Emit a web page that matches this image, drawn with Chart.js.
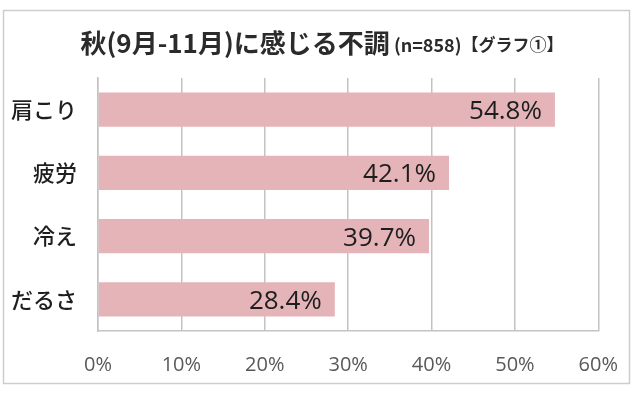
<!DOCTYPE html>
<html>
<head>
<meta charset="utf-8">
<script src="https://cdn.jsdelivr.net/npm/chart.js@4"></script>
<style>
  html, body { margin: 0; padding: 0; background: #fff; }
  canvas { display: block; }
</style>
</head>
<body>
<canvas id="chart" width="640" height="393"></canvas>
<script>
const categories = ["肩こり", "疲労", "冷え", "だるさ"]
const values     = [54.8, 42.1, 39.7, 28.4]
const axisMin    = 0
const axisMax    = 60
const axisStep   = 10

const titleMain = "秋(9月-11月)に感じる不調"
const titleN    = " (n=858)"
const titleTag  = "【グラフ①】"

const JP  = "'Noto Sans CJK JP', 'Noto Sans', sans-serif"
const NUM = "'Open Sans', 'Noto Sans', sans-serif"
const GRID = "#c3c3c3"

// frame + title drawn straight on the canvas
const frameAndTitle = {
  id: "frameAndTitle",
  beforeDraw(chart) {
    const ctx = chart.ctx
    ctx.save()
    ctx.fillStyle = "#fff"
    ctx.fillRect(0, 0, chart.width, chart.height)
    ctx.strokeStyle = "#cdcdcd"
    ctx.lineWidth = 1.5
    ctx.strokeRect(3.5, 10.5, 626, 373)
    ctx.restore()
  },
  afterDraw(chart) {
    const ctx = chart.ctx
    ctx.save()
    ctx.fillStyle = "#2b2b2b"
    ctx.textBaseline = "middle"
    const f1 = `bold 26px ${JP}`
    const f2 = `bold 18px ${JP}`
    const f3 = `bold 17px ${JP}`
    ctx.font = f1; const w1 = ctx.measureText(titleMain).width
    ctx.font = f2; const w2 = ctx.measureText(titleN).width
    ctx.font = f3; const w3 = ctx.measureText(titleTag).width
    let x = 322 - (w1 + w2 + w3) / 2
    const y = 43
    ctx.textAlign = "left"
    ctx.font = f1; ctx.fillText(titleMain, x, y); x += w1
    ctx.font = f2; ctx.fillText(titleN, x, y + 2); x += w2
    ctx.font = f3; ctx.fillText(titleTag, x, y + 2)
    ctx.restore()
  }
}

// value labels inside the bar ends
const barValues = {
  id: "barValues",
  afterDatasetsDraw(chart) {
    const ctx = chart.ctx
    const meta = chart.getDatasetMeta(0)
    ctx.save()
    ctx.font = `26px ${NUM}`
    ctx.fillStyle = "#1e1e1e"
    ctx.textAlign = "right"
    ctx.textBaseline = "middle"
    meta.data.forEach((bar, i) => {
      ctx.fillText(values[i].toFixed(1) + "%", bar.x - 13, bar.y + 2)
    })
    ctx.restore()
  }
}

new Chart(document.getElementById("chart"), {
  type: "bar",
  data: {
    labels: categories,
    datasets: [{
      data: values,
      backgroundColor: "#e5b4b8",
      borderWidth: 0,
      categoryPercentage: 1,
      barPercentage: 0.54
    }]
  },
  options: {
    indexAxis: "y",
    responsive: false,
    animation: false,
    layout: { padding: { top: 78, right: 41, left: 0, bottom: 0 } },
    plugins: {
      legend: { display: false },
      tooltip: { enabled: false }
    },
    scales: {
      x: {
        min: axisMin,
        max: axisMax,
        ticks: {
          stepSize: axisStep,
          callback: v => v + "%",
          color: "#595959",
          font: { family: NUM, size: 20 },
          padding: 22
        },
        grid: { color: GRID, lineWidth: 1.5, drawTicks: false },
        border: { color: GRID, width: 1.5 },
        afterFit: s => { s.height = 62 }
      },
      y: {
        ticks: {
          color: "#1e1e1e",
          font: { family: JP, size: 22, weight: "500" },
          padding: 21
        },
        grid: { display: false, drawTicks: false },
        border: { color: GRID, width: 1.5 },
        afterFit: s => { s.width = 98 }
      }
    }
  },
  plugins: [frameAndTitle, barValues]
})
</script>
</body>
</html>
